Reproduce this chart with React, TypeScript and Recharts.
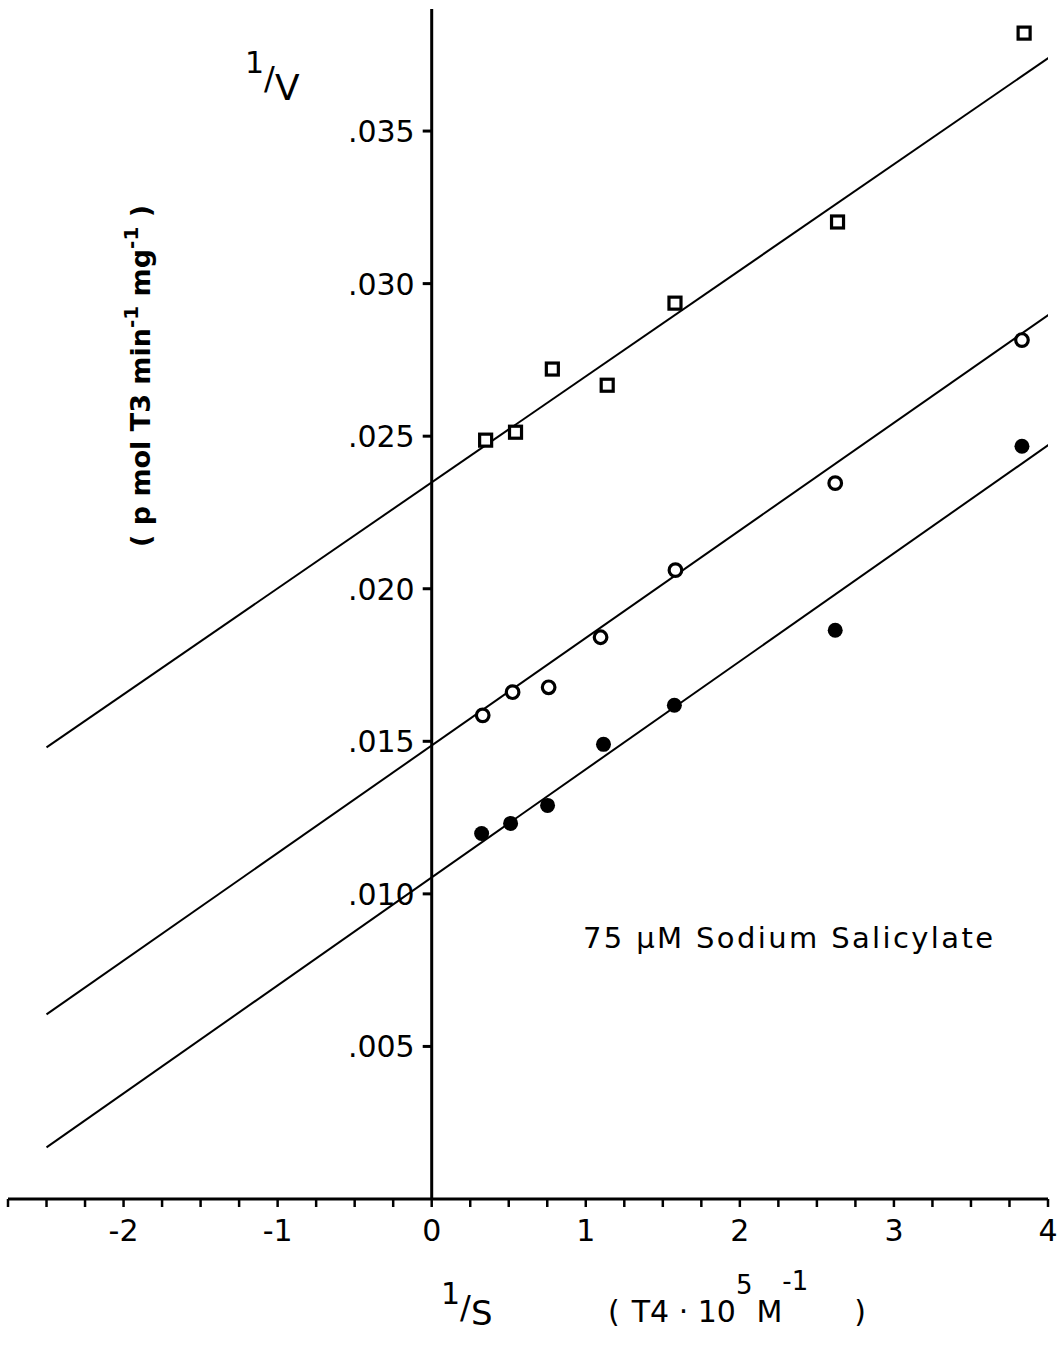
import React from 'react';
import { ScatterChart, Scatter, XAxis, YAxis, ReferenceLine } from 'recharts';

// ---- axis ticks ----
const xTicks = [-2.75, -2.5, -2.25, -2, -1.75, -1.5, -1.25, -1, -0.75, -0.5, -0.25, 0, 0.25, 0.5, 0.75, 1, 1.25, 1.5, 1.75, 2, 2.25, 2.5, 2.75, 3, 3.25, 3.5, 3.75, 4];
const xTickLabels: Record<string, string> = { '-2': '-2', '-1': '-1', '0': '0', '1': '1', '2': '2', '3': '3', '4': '4' };
const yTickValues = [0.005, 0.01, 0.015, 0.02, 0.025, 0.03, 0.035];
const yTickLabels = ['.005', '.010', '.015', '.020', '.025', '.030', '.035'];

// ---- data: open squares ----
const squareX = [0.35, 0.544, 0.783, 1.139, 1.579, 2.634, 3.845];
const squareY = [0.02487, 0.02513, 0.0272, 0.02667, 0.02936, 0.03202, 0.03821];
// ---- data: open circles ----
const openX = [0.331, 0.525, 0.759, 1.096, 1.582, 2.619, 3.831];
const openY = [0.01585, 0.01661, 0.01677, 0.01841, 0.02061, 0.02346, 0.02815];
// ---- data: filled circles (75 µM sodium salicylate) ----
const filledX = [0.324, 0.512, 0.752, 1.115, 1.575, 2.619, 3.831];
const filledY = [0.01198, 0.01231, 0.0129, 0.0149, 0.01618, 0.01864, 0.02467];

// ---- fitted lines (end points) ----
const lineX = [-2.5, 4.03];
const squareLineY = [0.0148, 0.03749];
const openLineY = [0.00605, 0.02907];
const filledLineY = [0.00169, 0.02481];

const toPts = (xs: number[], ys: number[]) => xs.map((x, i) => ({ x, y: ys[i] }));

const squares = toPts(squareX, squareY);
const opens = toPts(openX, openY);
const filleds = toPts(filledX, filledY);
const squareLine = toPts(lineX, squareLineY);
const openLine = toPts(lineX, openLineY);
const filledLine = toPts(lineX, filledLineY);
const yTickData = yTickValues.map((y, i) => ({ x: 0, y, label: yTickLabels[i] }));

const FONT = 'DejaVu Sans';

const SquareShape = (p: any) => (
  <rect x={p.cx - 6} y={p.cy - 6} width={12} height={12} fill="#fff" stroke="#000" strokeWidth={3.2} />
);
const OpenShape = (p: any) => <circle cx={p.cx} cy={p.cy} r={6.3} fill="#fff" stroke="#000" strokeWidth={3.2} />;
const FilledShape = (p: any) => <circle cx={p.cx} cy={p.cy} r={7.5} fill="#000" stroke="none" />;
const NoShape = () => <g />;
const YTickShape = (p: any) => (
  <g>
    <line x1={p.cx - 9} y1={p.cy} x2={p.cx} y2={p.cy} stroke="#000" strokeWidth={3} />
    <text x={p.cx - 17} y={p.cy + 11} textAnchor="end" fontFamily={FONT} fontSize={30} fill="#000">
      {p.payload.label}
    </text>
  </g>
);

export default function App() {
  return (
    <div style={{ position: 'absolute', left: 0, top: 0, width: 1060, height: 1353, background: '#fff' }}>
      <ScatterChart width={1060} height={1353} margin={{ top: 9, right: 12, bottom: 114, left: 8 }}>
        <XAxis
          type="number"
          dataKey="x"
          domain={[-2.75, 4]}
          ticks={xTicks}
          interval={0}
          allowDataOverflow
          height={40}
          axisLine={{ stroke: '#000', strokeWidth: 3 }}
          tickLine={{ stroke: '#000', strokeWidth: 2.5 }}
          tickSize={8}
          tickMargin={13}
          tick={{ fill: '#000', fontSize: 30, fontFamily: FONT }}
          tickFormatter={(v: number) => xTickLabels[String(v)] ?? ''}
        />
        <YAxis type="number" dataKey="y" domain={[0, 0.039]} allowDataOverflow hide width={0} />
        <ReferenceLine x={0} stroke="#000" strokeWidth={3} />
        <Scatter data={squareLine} line={{ stroke: '#000', strokeWidth: 2 }} shape={NoShape} isAnimationActive={false} />
        <Scatter data={openLine} line={{ stroke: '#000', strokeWidth: 2 }} shape={NoShape} isAnimationActive={false} />
        <Scatter data={filledLine} line={{ stroke: '#000', strokeWidth: 2 }} shape={NoShape} isAnimationActive={false} />
        <Scatter data={yTickData} shape={YTickShape} isAnimationActive={false} />
        <Scatter data={squares} shape={SquareShape} isAnimationActive={false} />
        <Scatter data={opens} shape={OpenShape} isAnimationActive={false} />
        <Scatter data={filleds} shape={FilledShape} isAnimationActive={false} />
      </ScatterChart>
      <svg
        width={1060}
        height={1353}
        style={{ position: 'absolute', left: 0, top: 0, pointerEvents: 'none' }}
        fontFamily={FONT}
        fill="#000"
      >
        {/* 1/V */}
        <text x={245} y={73} fontSize={30}>
          <tspan>1</tspan>
          <tspan dy={16} fontSize={32}>/</tspan>
          <tspan dy={11} fontSize={36}>V</tspan>
        </text>
        {/* y unit label */}
        <text
          transform="translate(150 376) rotate(-90)"
          textAnchor="middle"
          fontSize={27}
          fontWeight="bold"
        >
          <tspan>( p mol T3 min</tspan>
          <tspan dy={-12} fontSize={20}>-1</tspan>
          <tspan dy={12}> mg</tspan>
          <tspan dy={-12} fontSize={20}>-1</tspan>
          <tspan dy={12}> )</tspan>
        </text>
        {/* 1/S */}
        <text x={441} y={1304} fontSize={30}>
          <tspan>1</tspan>
          <tspan dy={14} fontSize={32}>/</tspan>
          <tspan dy={7} fontSize={34}>S</tspan>
        </text>
        {/* x unit label */}
        <text x={608} y={1322} fontSize={30}>
          <tspan>(</tspan>
          <tspan dx={12}>T4 · 10</tspan>
          <tspan dy={-28} fontSize={26}>5</tspan>
          <tspan dy={28} dx={4}>M</tspan>
          <tspan dy={-32} fontSize={26}>-1</tspan>
          <tspan dy={32} dx={46}>)</tspan>
        </text>
        {/* annotation */}
        <text x={583} y={948} fontSize={29} textLength={410} lengthAdjust="spacing">
          75 µM Sodium  Salicylate
        </text>
      </svg>
    </div>
  );
}
